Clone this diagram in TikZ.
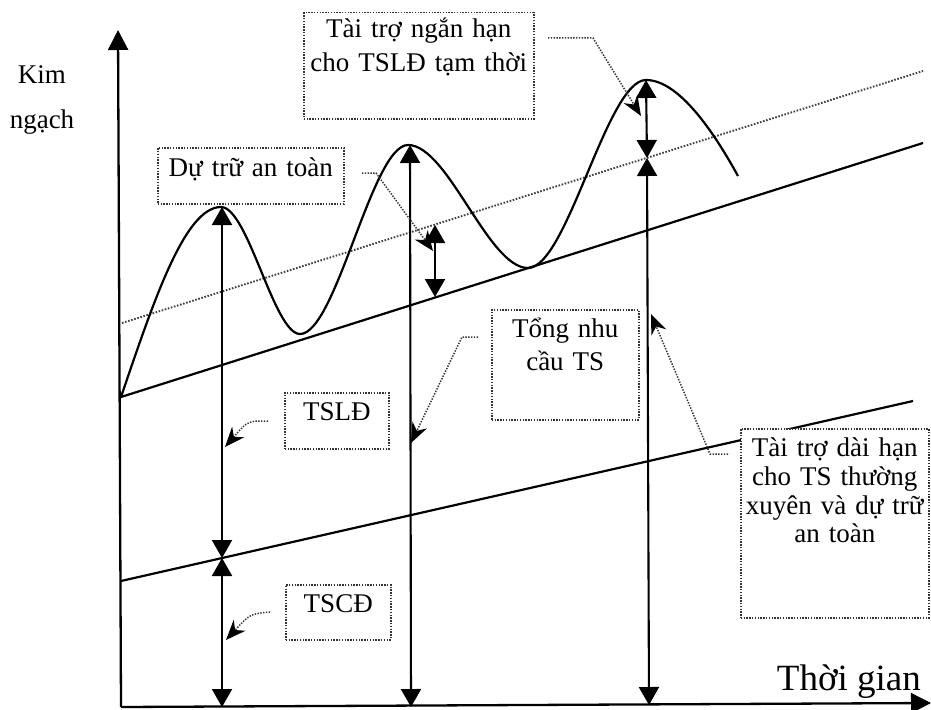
\documentclass[tikz,border=0pt]{standalone}
\usepackage{fontspec}
\setmainfont{Liberation Serif}
\usetikzlibrary{arrows.meta}
\begin{document}
\begin{tikzpicture}[x=1pt,y=-1pt,
  axisline/.style={line width=2.3pt,-{Triangle[length=20pt,width=20pt]}},
  mainline/.style={line width=2.2pt},
  wave/.style={line width=2.2pt},
  safedot/.style={line width=1.9pt,dash pattern=on 1.6pt off 1.6pt,black!75},
  dimarrow/.style={line width=2.1pt,{Triangle[length=18pt,width=20pt]}-{Triangle[length=18pt,width=20pt]}},
  tagbox/.style={draw=black!80,line width=1.5pt,dash pattern=on 1.4pt off 1.4pt,fill=white,
    inner sep=0pt,align=center,font=\fontsize{27}{34}\selectfont,anchor=north west},
  leader/.style={draw=black!80,line width=1.5pt,dash pattern=on 1.4pt off 1.4pt,
    -{Stealth[length=20pt,width=16pt,color=black]}}]
\useasboundingbox (0,0) rectangle (931,709);

% axes
\coordinate (O) at (121,707);
\coordinate (Ytop) at (118,30);
\coordinate (Xend) at (931,703);
\draw[axisline] (O) -- (Ytop);
\draw[axisline] (O) -- (Xend);

% straight lines
\coordinate (L1) at (121,581); \coordinate (L2) at (913,401);
\coordinate (U1) at (121,397); \coordinate (U2) at (923,143);
\coordinate (D1) at (122,323); \coordinate (D2) at (923,71);
\draw[mainline] (L1) -- (L2);
\draw[mainline] (U1) -- (U2);
\draw[safedot] (D1) -- (D2);

% wave
\coordinate (P1) at (221,207); \coordinate (T1) at (300,334);
\coordinate (P2) at (408,145); \coordinate (T2) at (528,268);
\coordinate (P3) at (646,80);  \coordinate (E) at (738,176);
\draw[wave] (U1) .. controls (154,300) and (185,207) .. (P1)
  .. controls (248,207) and (274,334) .. (T1)
  .. controls (336,334) and (372,145) .. (P2)
  .. controls (448,145) and (488,268) .. (T2)
  .. controls (567,268) and (607,80) .. (P3)
  .. controls (680,80) and (716,136) .. (E);

% vertical dimension arrows
\coordinate (v1t) at (222,207); \coordinate (v1m) at (222,558); \coordinate (v1b) at (222,707);
\draw[dimarrow] (v1t) -- (v1m);
\draw[dimarrow] (v1m) -- (v1b);
\coordinate (v2t) at (410,145); \coordinate (v2b) at (411,707);
\draw[dimarrow] (v2t) -- (v2b);
\coordinate (v3t) at (646,80); \coordinate (v3m) at (647,158); \coordinate (v3b) at (649,705);
\draw[dimarrow] (v3t) -- (v3m);
\draw[dimarrow] (v3m) -- (v3b);
\coordinate (v4t) at (435,225); \coordinate (v4b) at (435,297);
\draw[dimarrow] (v4t) -- (v4b);

% labels
\node[tagbox,text width=230pt,text height=25pt,text depth=81pt] (nganhan) at (303,12)
  {Tài trợ ngắn hạn\\cho TSLĐ tạm thời};
\node[tagbox,text width=186pt,text height=29pt,text depth=27pt] (dutru) at (157,147)
  {Dự trữ an toàn};
\node[tagbox,text width=104pt,text height=28pt,text depth=28pt] (tsld) at (284,392) {TSLĐ};
\node[tagbox,text width=105pt,text height=28pt,text depth=27pt] (tscd) at (285,584) {TSCĐ};
\node[tagbox,text width=147pt,text height=28pt,text depth=82pt,font=\fontsize{27}{33}\selectfont] (tong) at (491,309)
  {Tổng nhu\\cầu TS};
\node[tagbox,text width=188pt,text height=28pt,text depth=161pt,font=\fontsize{27}{28.7}\selectfont] (daihan) at (740,428)
  {Tài trợ dài hạn\\cho TS thường\\xuyên và dự trữ\\an toàn};

\node[font=\fontsize{27}{45}\selectfont,align=center,text width=80pt,inner sep=0pt,
  text height=20pt,anchor=north] (kim) at (42,63) {Kim\\ngạch};
\node[font=\fontsize{37}{40}\selectfont,anchor=base east,inner sep=0pt] (thoigian) at (921,690) {Thời gian};

% leaders
\coordinate (la0) at (548,38); \coordinate (la1) at (593,38); \coordinate (la2) at (641,116);
\draw[leader] (la0) -- (la1) -- (la2);
\coordinate (lb0) at (362,173); \coordinate (lb1) at (376,173); \coordinate (lb2) at (433,251);
\draw[leader] (lb0) -- (lb1) -- (lb2);
\coordinate (lc0) at (478,337); \coordinate (lc1) at (462,337); \coordinate (lc2) at (411,443);
\draw[leader] (lc0) -- (lc1) -- (lc2);
\coordinate (ld0) at (728,454); \coordinate (ld1) at (710,454); \coordinate (ld2) at (651,314);
\draw[leader] (ld0) -- (ld1) -- (ld2);
\coordinate (le0) at (268,421); \coordinate (le1) at (256,421); \coordinate (le2) at (225,447);
\draw[leader] (le0) -- (le1) .. controls (246,423) .. (le2);
\coordinate (lf0) at (270,612); \coordinate (lf2) at (226,640);
\draw[leader] (lf0) .. controls (250,614) .. (lf2);
\end{tikzpicture}
\end{document}
